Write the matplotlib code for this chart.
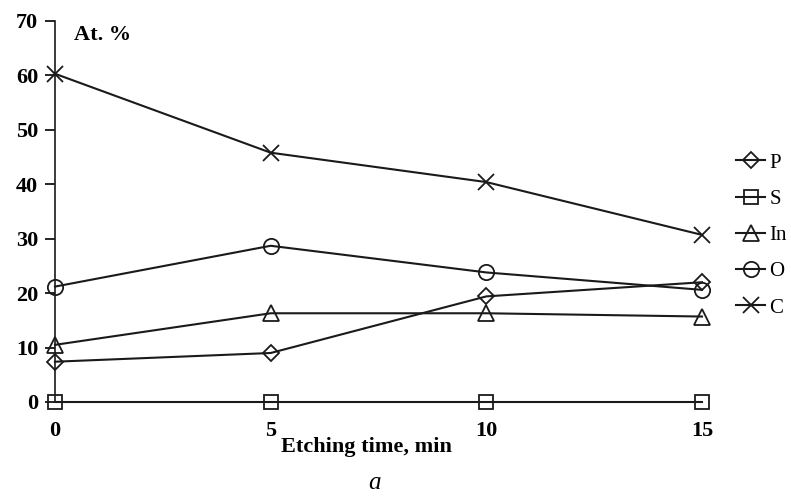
import matplotlib.pyplot as plt

plt.rcParams['font.family'] = ['Liberation Serif', 'DejaVu Serif']

time = [0, 5, 10, 15]
P = [7.4, 9.0, 19.4, 22.0]
S = [0, 0, 0, 0]
In = [10.5, 16.3, 16.3, 15.7]
O = [21.2, 28.7, 23.8, 20.6]
C = [60.3, 45.8, 40.4, 30.7]

series = [('P', P, 'D', 8), ('S', S, 's', 10), ('In', In, '^', 11),
          ('O', O, 'o', 11), ('C', C, 'x', 11)]

fig = plt.figure(figsize=(7.91, 4.99), dpi=100)
ax = fig.add_axes([0.0695, 0.1944, 0.818, 0.7636])

for name, vals, mk, ms in series:
    ax.plot(time, vals, color='#1a1a1a', lw=1.5, marker=mk, ms=ms,
            mfc='none', mec='#1a1a1a', mew=1.3, label=name, clip_on=False, zorder=3)

ax.set_xlim(0, 15)
ax.set_ylim(0, 70)
ax.set_xticks(time)
ax.set_yticks(range(0, 71, 10))
for s in ['top', 'right', 'bottom']:
    ax.spines[s].set_visible(False)
ax.spines['left'].set_color('#1a1a1a')
ax.spines['left'].set_linewidth(1.2)
ax.tick_params(axis='y', direction='out', length=7, width=1.2, pad=5, labelsize=16)
ax.tick_params(axis='x', length=0, pad=14, labelsize=16)
for lbl in ax.get_xticklabels() + ax.get_yticklabels():
    lbl.set_fontweight('bold')

ax.set_xlabel('Etching time, min', fontsize=16, fontweight='bold')
ax.xaxis.set_label_coords(0.482, -0.093)
ax.text(0.03, 0.99, 'At. %', transform=ax.transAxes, fontsize=16,
        fontweight='bold', va='top', ha='left')
fig.text(0.474, 0.02, 'a', fontsize=18, style='italic', ha='center')

ax.legend(loc='upper left', bbox_to_anchor=(0.92, 0.71), bbox_transform=fig.transFigure,
          frameon=False, handlelength=1.4, handletextpad=0.2, labelspacing=0.8,
          borderaxespad=0, prop={'size': 15}, markerscale=1.0)

fig.savefig('out.png', dpi=100)
